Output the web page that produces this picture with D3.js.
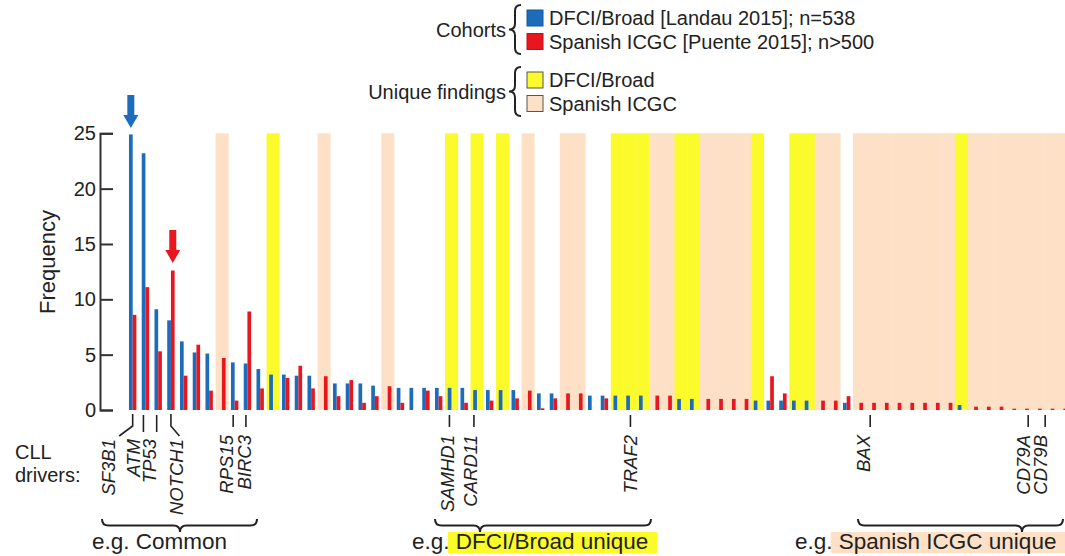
<!DOCTYPE html>
<html><head><meta charset="utf-8">
<script src="https://cdn.jsdelivr.net/npm/d3@7"></script>
<style>
html,body{margin:0;padding:0;background:#fff;}
svg{display:block;font-family:"Liberation Sans",Arial,Helvetica,sans-serif;}
</style></head><body>
<svg id="chart" width="1065" height="556"></svg>
<script>
// Mutation frequency (%) per gene, in plotted order
const dfciFreq = [
  24.9, 23.2, 9.1, 8.1, 6.2, 5.2, 5.1, 0, 4.3, 4.2,
  3.7, 3.2, 3.2, 3.1, 3.1, 0, 2.4, 2.4, 2.4, 2.2,
  0, 2.0, 2.0, 2.0, 2.0, 2.0, 2.0, 1.8, 1.8, 1.8,
  1.8, 0, 1.5, 1.5, 0, 0, 1.3, 1.3, 1.3, 1.3,
  1.3, 0, 0, 1.0, 1.0, 0, 0, 0, 0, 0.85,
  0.85, 0.85, 0.85, 0.85, 0, 0, 0.65, 0, 0, 0,
  0, 0, 0, 0, 0, 0.45, 0, 0, 0, 0,
  0, 0, 0, 0
];
const icgcFreq = [
  8.6, 11.1, 5.3, 12.6, 3.1, 5.9, 1.75, 4.7, 0.85, 8.9,
  1.95, 0, 2.9, 4.0, 1.95, 3.05, 1.25, 2.7, 0.65, 1.25,
  2.15, 0.65, 0, 1.75, 1.25, 0, 0.65, 0, 0.85, 0,
  1.05, 1.75, 0.15, 1.05, 1.5, 1.5, 0, 1.05, 0, 0,
  0, 1.3, 1.3, 0, 0, 1.0, 1.0, 1.0, 1.0, 0,
  3.05, 1.5, 0, 0, 0.85, 0.85, 1.25, 0.65, 0.65, 0.65,
  0.65, 0.65, 0.65, 0.65, 0.65, 0, 0.3, 0.3, 0.3, 0.12,
  0.12, 0.12, 0.12, 0.12
];
// Genes found in only one cohort: "D" = DFCI/Broad, "S" = Spanish ICGC
const uniqueTo = [
  "", "", "", "", "", "", "", "S", "", "",
  "", "D", "", "", "", "S", "", "", "", "",
  "S", "", "", "", "", "D", "", "D", "", "D",
  "", "S", "", "", "S", "S", "", "", "D", "D",
  "D", "S", "S", "D", "D", "S", "S", "S", "S", "D",
  "", "", "D", "D", "S", "S", "", "S", "S", "S",
  "S", "S", "S", "S", "S", "D", "S", "S", "S", "S",
  "S", "S", "S", "S"
];
const yTicks = [0, 5, 10, 15, 20, 25];
const driverNames = ["SF3B1", "ATM", "TP53", "NOTCH1", "RPS15", "BIRC3",
                     "SAMHD1", "CARD11", "TRAF2", "BAX", "CD79A", "CD79B"];
const driverGene = [0, 1, 2, 3, 8, 9, 25, 27, 39, 58, 70, 72];
const cohortNames = ["DFCI/Broad [Landau 2015]; n=538", "Spanish ICGC [Puente 2015]; n>500"];
const uniqueNames = ["DFCI/Broad", "Spanish ICGC"];
const groupNames = ["Common", "DFCI/Broad unique", "Spanish ICGC unique"];

// ---- styling / layout ----
const BLUE = "#1d6cbc", RED = "#e8161e", YELLOW = "#fbfb2c", PEACH = "#fde0c6";
const INK = "#222";
// label layout: offset of the label centre and its tick from the gene centre,
// and whether a bent leader joins them
const labelLayout = [
  {dx: -24.5, tick: 0, bent: true},
  {dx: -11.5, tick: -2},
  {dx: -9, tick: -1.5},
  {dx: 5.5, tick: 0, bent: true},
  {dx: -8, tick: -1.5},
  {dx: -2.5, tick: -1.5},
  {dx: -4, tick: -2},
  {dx: -6.5, tick: -3},
  {dx: 1, tick: 0.5},
  {dx: -9, tick: -2},
  {dx: -2, tick: 3},
  {dx: -10.5, tick: -5.5}
];

const svg = d3.select("#chart");
const n = dfciFreq.length;
const step = 12.75, x0 = 126.3;
const x = d3.scaleBand().domain(d3.range(n)).range([x0, x0 + step * n]);
const xs = d3.scaleBand().domain(["dfci", "icgc"])
  .range([x.bandwidth() / 2 - 3.7, x.bandwidth() / 2 + 3.7]);
const y = d3.scaleLinear().domain([0, 25]).range([410, 133.3]);
const cx = i => x(i) + x.bandwidth() / 2;

// unique-finding bands
svg.append("g").selectAll("rect")
  .data(uniqueTo.map((u, i) => ({u, i})).filter(d => d.u))
  .join("rect")
  .attr("x", d => x(d.i)).attr("width", x.bandwidth() + 0.3)
  .attr("y", y(25)).attr("height", y(0) - y(25))
  .attr("fill", d => d.u === "D" ? YELLOW : PEACH);

// bars
const series = [
  {key: "dfci", values: dfciFreq, color: BLUE},
  {key: "icgc", values: icgcFreq, color: RED}
];
series.forEach(s => {
  svg.append("g").selectAll("rect")
    .data(s.values.map((v, i) => ({v, i})).filter(d => d.v > 0))
    .join("rect")
    .attr("x", d => x(d.i) + xs(s.key))
    .attr("width", xs.bandwidth())
    .attr("y", d => y(d.v))
    .attr("height", d => y(0) - y(d.v))
    .attr("fill", s.color);
});

// y axis
const yAxis = svg.append("g").attr("transform", "translate(100,0)")
  .call(d3.axisLeft(y).tickValues(yTicks).tickSizeInner(-13).tickSizeOuter(-13).tickPadding(4));
yAxis.select(".domain").attr("stroke", "#333").attr("stroke-width", 2);
yAxis.selectAll(".tick line").attr("stroke", "#333").attr("stroke-width", 2);
yAxis.selectAll(".tick text").attr("font-size", 20).attr("fill", INK)
  .attr("font-family", "Liberation Sans, Arial, sans-serif");
svg.append("text").attr("transform", "translate(47,262) rotate(-90)")
  .attr("text-anchor", "middle").attr("dy", "0.35em")
  .attr("font-size", 22).attr("fill", INK).text("Frequency");

// highlight arrows on SF3B1 (DFCI) and NOTCH1 (ICGC)
function downArrow(xc, tip, color) {
  const len = 33, head = 13, hw = 7.5, sw = 3.5;
  const p = d3.path();
  p.moveTo(xc - sw, tip - len); p.lineTo(xc + sw, tip - len);
  p.lineTo(xc + sw, tip - head); p.lineTo(xc + hw, tip - head);
  p.lineTo(xc, tip); p.lineTo(xc - hw, tip - head);
  p.lineTo(xc - sw, tip - head); p.closePath();
  svg.append("path").attr("d", p.toString()).attr("fill", color);
}
downArrow(x(0) + xs("dfci") + xs.bandwidth() / 2, y(dfciFreq[0]) - 6.5, BLUE);
downArrow(x(3) + xs("icgc") + xs.bandwidth() / 2, y(icgcFreq[3]) - 7.5, RED);

// legend
function vBrace(xTip, y1, y2, w) {
  const m = (y1 + y2) / 2, xm = xTip + w / 2, r = w / 2;
  return `M${xTip + w},${y1} Q${xm},${y1} ${xm},${y1 + r} L${xm},${m - r} Q${xm},${m} ${xTip},${m}` +
         ` Q${xm},${m} ${xm},${m + r} L${xm},${y2 - r} Q${xm},${y2} ${xTip + w},${y2}`;
}
const leg = svg.append("g");
function legendBlock(title, names, colors, top, outline) {
  leg.append("text").attr("x", 506).attr("y", top + 26).attr("text-anchor", "end")
    .attr("dy", "0.35em").attr("font-size", 20).attr("fill", INK).text(title);
  leg.append("path").attr("d", vBrace(509, top + 1, top + 50, 12))
    .attr("fill", "none").attr("stroke", INK).attr("stroke-width", 2);
  names.forEach((nm, k) => {
    const yy = top + 14 + k * 23.5;
    leg.append("rect").attr("x", 527).attr("y", yy - 8).attr("width", 16).attr("height", 16)
      .attr("fill", colors[k]).attr("stroke", outline ? "#555" : d3.color(colors[k]).darker(0.6))
      .attr("stroke-width", 1);
    leg.append("text").attr("x", 549).attr("y", yy).attr("dy", "0.35em")
      .attr("font-size", 20).attr("fill", INK).text(nm);
  });
}
legendBlock("Cohorts", cohortNames, [BLUE, RED], 4, false);
legendBlock("Unique findings", uniqueNames, [YELLOW, PEACH], 66, true);

// CLL driver labels
svg.append("text").attr("x", 15).attr("y", 459).attr("font-size", 20).attr("fill", INK).text("CLL");
svg.append("text").attr("x", 15).attr("y", 482).attr("font-size", 20).attr("fill", INK).text("drivers:");
const drv = svg.append("g");
driverNames.forEach((nm, k) => {
  const L = labelLayout[k];
  const gx = cx(driverGene[k]);
  const lx = gx + L.dx;
  if (L.bent) {
    const endX = k === 0 ? lx + 11 : lx + 3;
    drv.append("path").attr("d", `M${gx},414 V426 L${endX},436`)
      .attr("fill", "none").attr("stroke", INK).attr("stroke-width", 1.6);
  } else {
    drv.append("line").attr("x1", gx + L.tick).attr("x2", gx + L.tick)
      .attr("y1", 415).attr("y2", k < 4 ? 432 : 427)
      .attr("stroke", INK).attr("stroke-width", 1.6);
  }
  drv.append("text")
    .attr("transform", `translate(${lx},${k < 4 ? 439 : 435}) rotate(-90)`)
    .attr("text-anchor", "end").attr("dy", "0.35em")
    .attr("font-size", 18.5).attr("font-style", "italic").attr("fill", INK).text(nm);
});

// group braces beneath the labels
function hBrace(x1, x2, xc, top, h) {
  const m = top + h / 2, r = h / 2;
  return `M${x1},${top} Q${x1},${m} ${x1 + r},${m} L${xc - r},${m} Q${xc},${m} ${xc},${top + h}` +
         ` Q${xc},${m} ${xc + r},${m} L${x2 - r},${m} Q${x2},${m} ${x2},${top}`;
}
const braces = [
  {x1: 102, x2: 257, xc: 180},
  {x1: 435, x2: 651, xc: 480},
  {x1: 858, x2: 1063, xc: 1022}
];
braces.forEach(b => svg.append("path").attr("d", hBrace(b.x1, b.x2, b.xc, 519, 13))
  .attr("fill", "none").attr("stroke", INK).attr("stroke-width", 2));

// group captions, the cohort-specific ones highlighted
const fs = 22.5, baseY = 549;
const hlLayer = svg.append("g");
const capLayer = svg.append("g");
capLayer.append("text").attr("x", 92).attr("y", baseY).attr("font-size", fs).attr("fill", INK)
  .text("e.g. " + groupNames[0]);
[{x: 412, name: groupNames[1], color: YELLOW, pad: [8, 9]},
 {x: 795, name: groupNames[2], color: PEACH, pad: [8, 12]}].forEach(g => {
  const eg = capLayer.append("text").attr("x", g.x).attr("y", baseY).attr("font-size", fs)
    .attr("fill", INK).text("e.g.");
  const egW = eg.node().getComputedTextLength();
  const tx = g.x + egW + fs * 0.278;
  const t = capLayer.append("text").attr("x", tx).attr("y", baseY).attr("font-size", fs)
    .attr("fill", INK).text(g.name);
  const tw = t.node().getComputedTextLength();
  hlLayer.append("rect").attr("x", tx - g.pad[0]).attr("width", tw + g.pad[0] + g.pad[1])
    .attr("y", 532).attr("height", 21).attr("fill", g.color);
});
</script></body></html>
